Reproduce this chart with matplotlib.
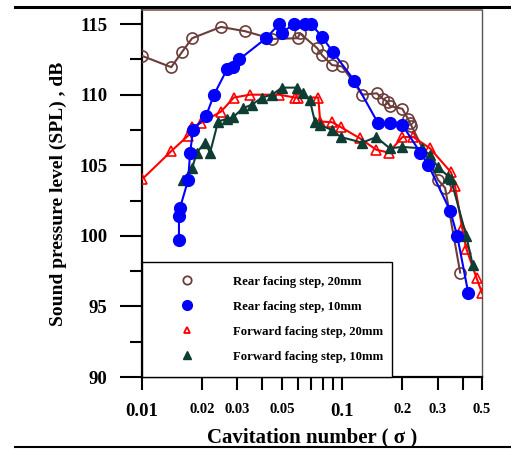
import matplotlib
matplotlib.use("Agg")
import matplotlib.pyplot as plt
from matplotlib.lines import Line2D

# SPL vs cavitation number for the four step geometries
rear20_x = [0.0100, 0.0140, 0.0158, 0.0178, 0.0248, 0.0327, 0.0447, 0.0600, 0.0615,
            0.0750, 0.0794, 0.0890, 0.1000, 0.1260, 0.1490, 0.1600, 0.1690, 0.1730,
            0.2000, 0.2130, 0.2180, 0.2220, 0.3020, 0.3270, 0.3890]
rear20_y = [112.75, 111.95, 113.0, 114.0, 114.8, 114.5, 113.95, 114.0, 114.35,
            113.3, 112.8, 112.1, 112.0, 110.0, 110.1, 109.7, 109.5, 109.2,
            109.0, 108.3, 108.0, 107.8, 103.95, 103.4, 97.4]

rear10_x = [0.0153, 0.0153, 0.0155, 0.0170, 0.0174, 0.0180, 0.0209, 0.0229, 0.0266,
            0.0285, 0.0306, 0.0417, 0.0484, 0.0500, 0.0575, 0.0654, 0.0700, 0.0794,
            0.0902, 0.1150, 0.1510, 0.1730, 0.2000, 0.2460, 0.2700, 0.3470, 0.3760,
            0.4270]
rear10_y = [99.7, 101.4, 102.0, 103.95, 105.9, 107.5, 108.5, 110.0, 111.8,
            111.95, 112.5, 114.0, 115.0, 114.4, 115.0, 115.0, 115.0, 114.1,
            113.0, 111.0, 108.0, 108.0, 107.85, 105.9, 105.0, 101.76, 100.0,
            95.95]

fwd20_x = [0.0100, 0.0140, 0.0170, 0.0178, 0.0197, 0.0248, 0.0288, 0.0347, 0.0484,
           0.0580, 0.0600, 0.0760, 0.0777, 0.0890, 0.0986, 0.1230, 0.1480, 0.1710,
           0.2000, 0.2270, 0.2750, 0.3500, 0.3670, 0.3980, 0.4170, 0.4700, 0.5000]
fwd20_y = [104.0, 106.0, 107.1, 107.7, 108.0, 108.8, 109.8, 110.0, 110.0,
           109.8, 109.8, 109.8, 108.1, 108.05, 107.7, 106.9, 106.1, 105.9,
           107.0, 107.0, 106.2, 104.5, 103.5, 100.55, 99.1, 97.0, 95.95]

fwd10_x = [0.0160, 0.0178, 0.0188, 0.0206, 0.0219, 0.0240, 0.0266, 0.0285, 0.0320,
           0.0355, 0.0398, 0.0447, 0.0500, 0.0596, 0.0640, 0.0690, 0.0731, 0.0777,
           0.0890, 0.0986, 0.1260, 0.1480, 0.1730, 0.2000, 0.2500, 0.2750, 0.3000,
           0.3400, 0.3500, 0.4170, 0.4500]
fwd10_y = [103.95, 104.8, 105.9, 106.6, 105.9, 108.1, 108.3, 108.4, 109.05,
           109.3, 109.8, 110.0, 110.5, 110.5, 110.1, 109.6, 108.1, 107.85,
           107.5, 107.0, 106.6, 107.0, 106.2, 106.3, 106.2, 105.7, 104.9,
           104.2, 104.0, 100.0, 97.9]

labels = ["Rear facing step, 20mm", "Rear facing step, 10mm",
          "Forward facing step, 20mm", "Forward facing step, 10mm"]
xticks = [0.01, 0.02, 0.03, 0.04, 0.05, 0.06, 0.07, 0.08, 0.09, 0.1, 0.2, 0.3, 0.4, 0.5]
xticklabels = ["0.01", "0.02", "0.03", "", "0.05", "", "", "", "", "0.1", "0.2", "0.3", "", "0.5"]
yticks = [90, 95, 100, 105, 110, 115]

brown = "#6b3d3a"
blue = "#0000ff"
red = "#ff0000"
green = "#0d3d33"

plt.rcParams["font.family"] = "Liberation Serif"
plt.rcParams["font.weight"] = "bold"

fig = plt.figure(figsize=(5.11, 4.5), dpi=100)
ax = fig.add_axes([142 / 511, 73 / 450, 340 / 511, 367 / 450])

ax.plot(rear20_x, rear20_y, color=brown, lw=1.5, marker="o", ms=8,
        mfc="none", mec=brown, mew=1.2, zorder=3)
ax.plot(rear10_x, rear10_y, color=blue, lw=1.5, marker="o", ms=8.5,
        mfc=blue, mec=blue, zorder=4)
ax.plot(fwd20_x, fwd20_y, color=red, lw=1.5, marker="^", ms=6.5,
        mfc="none", mec=red, mew=1.2, zorder=3)
ax.plot(fwd10_x, fwd10_y, color=green, lw=1.5, marker="^", ms=7,
        mfc=green, mec=green, zorder=3)

ax.set_xscale("log")
ax.set_xlim(0.01, 0.5)
ax.set_ylim(90, 116)

ax.set_xticks(xticks)
ax.set_xticklabels(xticklabels)
ax.minorticks_off()
ax.set_yticks(yticks)
ax.set_yticks([92.5, 97.5, 102.5, 107.5, 112.5], minor=True)
for lab in ax.get_xticklabels():
    if lab.get_text() in ("0.01", "0.1"):
        lab.set_fontsize(13.5)
    else:
        lab.set_fontsize(10.5)
ax.tick_params(axis="x", which="major", direction="out", length=9, width=1.5, pad=10)
ax.tick_params(axis="y", which="major", direction="out", length=16, width=1.5,
               labelsize=13.5, pad=9)
ax.tick_params(axis="y", which="minor", direction="out", length=8.5, width=1.5)

ax.spines["left"].set_linewidth(1.6)
ax.spines["bottom"].set_linewidth(1.6)
ax.spines["top"].set_color("#7a5a56")
ax.spines["top"].set_linewidth(1.2)
ax.spines["right"].set_color("#555555")
ax.spines["right"].set_linewidth(1.0)

ax.set_xlabel("Cavitation number ( \u03c3 )", fontsize=15, fontweight="bold", labelpad=5)
ax.set_ylabel("Sound pressure level (SPL) , dB", fontsize=14, fontweight="bold", labelpad=9)

handles = [
    Line2D([], [], ls="none", marker="o", ms=6, mfc="none", mec=brown, mew=1.3),
    Line2D([], [], ls="none", marker="o", ms=7, mfc=blue, mec=blue),
    Line2D([], [], ls="none", marker="^", ms=5, mfc="none", mec=red, mew=1.3),
    Line2D([], [], ls="none", marker="^", ms=5.5, mfc=green, mec=green),
]
leg = ax.legend(handles, labels, loc="lower left", bbox_to_anchor=(0, 0, 0.735, 0.33),
                mode="expand", borderaxespad=0, fancybox=False, framealpha=1,
                edgecolor="black",
                prop={"family": "Liberation Serif", "weight": "bold", "size": 9.2},
                handlelength=4.9, handletextpad=1.1, borderpad=1.1, labelspacing=1.02)
leg.get_frame().set_linewidth(1.0)
leg.set_zorder(5)

# page rules above and below the figure
fig.add_artist(Line2D([15 / 511, 1], [1 - 7 / 450, 1 - 7 / 450], color="black", lw=2.2,
                      transform=fig.transFigure))
fig.add_artist(Line2D([15 / 511, 1], [3 / 450, 3 / 450], color="black", lw=1.5,
                      transform=fig.transFigure))

fig.savefig("out.png", dpi=100)
